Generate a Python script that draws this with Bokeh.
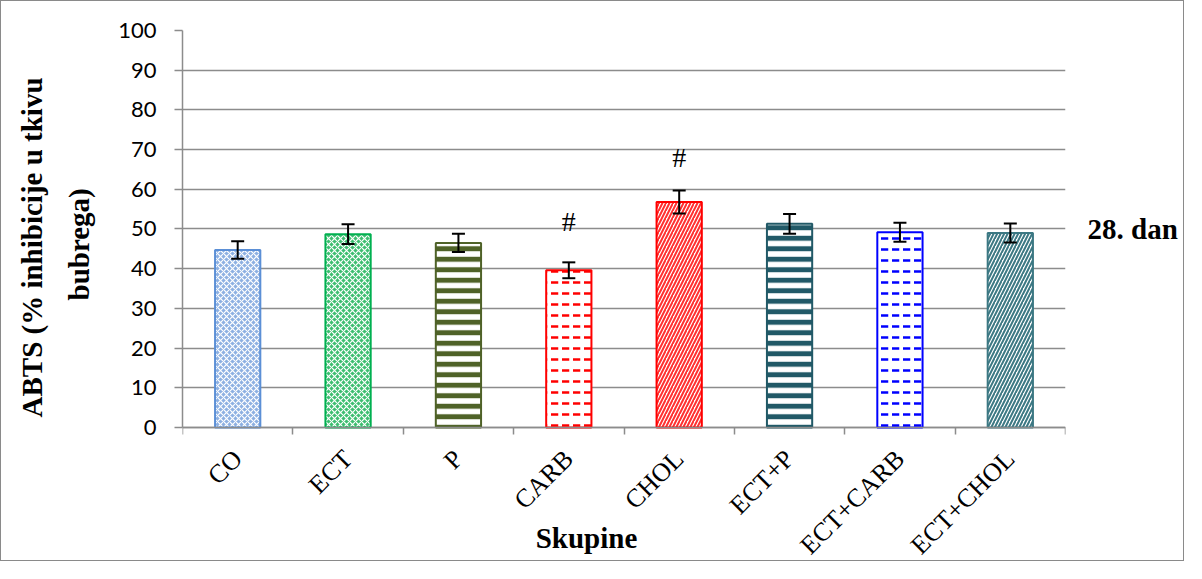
import numpy as np
from bokeh.plotting import figure
from bokeh.models import (ColumnDataSource, Whisker, TeeHead, FixedTicker, Range1d,
                          InlineStyleSheet, LinearAxis, Title)
from bokeh.core.properties import value
from bokeh.embed import file_html
from bokeh.resources import INLINE

groups = ["CO", "ECT", "P", "CARB", "CHOL", "ECT+P", "ECT+CARB", "ECT+CHOL"]
means = [44.7, 48.7, 46.5, 39.6, 56.8, 51.3, 49.2, 49.0]
errors = [2.2, 2.5, 2.3, 2.0, 2.9, 2.5, 2.4, 2.4]
sig_groups = ["CARB", "CHOL"]
sig_marks = ["#", "#"]
sig_y = [52.0, 68.0]
y_ticks = [0, 10, 20, 30, 40, 50, 60, 70, 80, 90, 100]
side_label = "28. dan"
x_title = "Skupine"
y_title_lines = ["ABTS (% inhibicije u tkivu", "bubrega)"]

line_colors = ["#5B8FD6", "#00B050", "#4F6228", "#FF0000", "#FF0000", "#215967", "#0000FF", "#3C7883"]
fill_colors = ["#8DB0E2", "#3DBE70", "white", "white", "white", "white", "white", "white"]
hatch_colors = ["white", "white", "#4F6228", "#FF0000", "#FF3030", "#215967", "#0000FF", "#3C7883"]
hatch_patterns = ["diagonal_cross", "diagonal_cross", "horizontal_line", "horizontal_dash",
                  "right_diagonal_line", "horizontal_line", "horizontal_dash", "right_diagonal_line"]
hatch_scales = [6, 6, 10.5, 11, 7, 10.5, 11, 7]
hatch_weights = [1.2, 1.2, 5, 2.5, 2, 5, 2.5, 2]

idx = {g: i for i, g in enumerate(groups)}
xs = [i + 0.5 for i in range(len(groups))]

src = ColumnDataSource(dict(
    x=xs, top=means,
    upper=[m + e for m, e in zip(means, errors)],
    lower=[m - e for m, e in zip(means, errors)],
    lc=line_colors, fc=fill_colors, hc=hatch_colors, hp=hatch_patterns,
    hs=hatch_scales, hw=hatch_weights,
))

css = InlineStyleSheet(css=":host { border: 1px solid #8a8a8a; }")

# the frame extends below zero so the rotated category labels and the
# x title can share the space under the axis, as in the original chart
p = figure(width=1184, height=561, output_backend="svg", toolbar_location=None,
           x_range=Range1d(0, len(groups)), y_range=Range1d(-33.0, 100),
           min_border_left=181, min_border_right=120, min_border_top=29, min_border_bottom=4,
           stylesheets=[css])
p.outline_line_color = None
p.background_fill_color = "white"
p.border_fill_color = "white"

p.vbar(x="x", top="top", bottom=0, width=0.41, source=src,
       fill_color="fc", line_color="lc", line_width=2,
       hatch_pattern="hp", hatch_color="hc", hatch_scale="hs", hatch_weight="hw")

w = Whisker(base="x", upper="upper", lower="lower", source=src, level="overlay",
            line_color="black", line_width=2,
            upper_head=TeeHead(size=13, line_color="black", line_width=2),
            lower_head=TeeHead(size=13, line_color="black", line_width=2))
p.add_layout(w)

p.text(x=[idx[g] + 0.5 for g in sig_groups], y=sig_y, text=sig_marks,
       text_align="center", text_baseline="middle", text_font=value("Liberation Serif"),
       text_font_size="28px", text_color="black")

p.text(x=[3.66], y=[-27.9], text=[x_title], text_align="center", text_baseline="middle",
       text_font=value("Liberation Serif"), text_font_style="bold",
       text_font_size="29px", text_color="black")

# right-side group label via an extra axis
ra = LinearAxis(ticker=FixedTicker(ticks=[50]), major_label_overrides={50: side_label})
ra.axis_line_color = None
ra.major_tick_line_color = None
ra.minor_tick_line_color = None
ra.major_label_standoff = 16
ra.major_label_text_font = "Liberation Serif"
ra.major_label_text_font_style = "bold"
ra.major_label_text_font_size = "29px"
ra.major_label_text_color = "black"
p.add_layout(ra, "right")

# y axis
yax = p.yaxis[0]
yax.ticker = FixedTicker(ticks=y_ticks)
yax.bounds = (0, 100)
yax.axis_line_color = "#8c8c8c"
yax.axis_line_width = 1.5
yax.major_tick_line_color = "#8c8c8c"
yax.major_tick_line_width = 1.5
yax.major_tick_out = 8
yax.major_tick_in = 0
yax.minor_tick_line_color = None
yax.major_label_text_font = "Lato"
yax.major_label_text_font_size = "22px"
yax.major_label_text_color = "black"
yax.major_label_standoff = 18

# y title: two left-side titles (inner line added first), positioned like the original
for line, off, so in [(y_title_lines[1], 258, 42), (y_title_lines[0], 141, -16)]:
    p.add_layout(Title(text=line, align="left", offset=off, standoff=so,
                       text_font="Liberation Serif", text_font_style="bold",
                       text_font_size="29px", text_color="black"), "left")

# x axis, pinned at y = 0
xax = p.xaxis[0]
xax.fixed_location = 0
xax.ticker = FixedTicker(ticks=xs, minor_ticks=list(range(len(groups) + 1)))
xax.major_label_overrides = {x: g for x, g in zip(xs, groups)}
xax.major_tick_line_color = None
xax.minor_tick_line_color = "#8c8c8c"
xax.minor_tick_line_width = 1.5
xax.minor_tick_out = 7
xax.minor_tick_in = 0
xax.axis_line_color = "#8c8c8c"
xax.axis_line_width = 1.5
xax.major_label_orientation = np.pi / 4
xax.major_label_text_font = "Liberation Serif"
xax.major_label_text_font_size = "26px"
xax.major_label_text_color = "black"
xax.major_label_standoff = 20

p.xgrid.grid_line_color = None
p.ygrid.ticker = FixedTicker(ticks=y_ticks)
p.ygrid.grid_line_color = "#8c8c8c"
p.ygrid.grid_line_width = 1.5

open("out.html", "w").write(file_html(p, INLINE))
